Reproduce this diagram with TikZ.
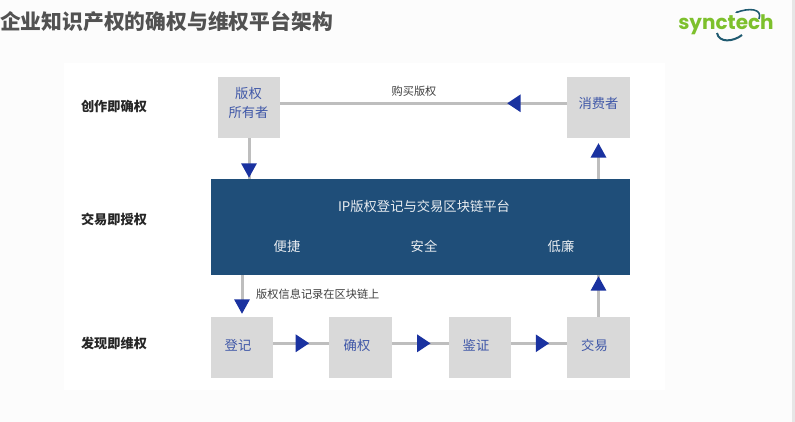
\documentclass[tikz,border=0pt]{standalone}
\usepackage{fontspec}
\setmainfont{Noto Sans CJK SC}
\newfontfamily\logofont{Poppins}
\usetikzlibrary{arrows.meta,decorations.markings}
\definecolor{pagebg}{HTML}{FCFCFC}
\definecolor{edgegray}{HTML}{E6E6E6}
\definecolor{boxgray}{HTML}{D9D9D9}
\definecolor{navy}{HTML}{1F4E79}
\definecolor{tipblue}{HTML}{1A32A0}
\definecolor{linegray}{HTML}{BEBEBE}
\definecolor{boxtext}{HTML}{4058A8}
\definecolor{logogreen}{HTML}{7DC02C}
\definecolor{logoteal}{HTML}{1F5A70}
\tikzset{
  x=1pt,y=-1pt,
  graybox/.style={fill=boxgray,minimum width=62.5pt,minimum height=61pt,inner sep=0pt},
  boxlabel/.style={text=boxtext,inner sep=0pt,font=\fontsize{13.3pt}{19pt}\selectfont,align=center},
  rowlabel/.style={font=\bfseries\fontsize{13.2pt}{16pt}\selectfont,text=black!85},
  smalllabel/.style={font=\fontsize{11.2pt}{14pt}\selectfont,text=black!75},
  platlabel/.style={font=\fontsize{13.3pt}{16pt}\selectfont,text=white!90!navy},
  conn/.style={draw=linegray,line width=3pt},
  tiph/.style={postaction={decorate,decoration={markings,mark=at position #1 with {\arrow[tipblue]{Triangle[length=13.5pt,width=17pt]}}}}},
  tipv/.style={postaction={decorate,decoration={markings,mark=at position #1 with {\arrow[tipblue]{Triangle[length=14.5pt,width=15pt]}}}}}
}
\begin{document}
\begin{tikzpicture}
\useasboundingbox (0,0) rectangle (795,422);
\fill[pagebg] (0,0) rectangle (795,422);
\fill[edgegray] (792,0) rectangle (795,422);
\fill[white] (64,63) rectangle (665,390);
\node[font=\bfseries\fontsize{20.8pt}{24pt}\selectfont,text=black!68,anchor=west,inner sep=0pt] (title) at (0,22) {企业知识产权的确权与维权平台架构};
\node[font=\logofont\bfseries\fontsize{20pt}{24pt}\selectfont,text=logogreen,inner sep=0pt] (logo) at (726,25) {synctech};
\draw[logoteal,line width=1.6pt,{Stealth[length=3pt]}-] (735,13) .. controls (748,8) and (763,8) .. (759,19);
\draw[logoteal,line width=2pt] (717,33) .. controls (719,43) and (733,42) .. (742,35);
\node[rowlabel] (r1) at (114,106) {创作即确权};
\node[rowlabel] (r2) at (114,219) {交易即授权};
\node[rowlabel] (r3) at (114,343) {发现即维权};
\node[graybox] (owner) at (249,107.5) {};
\node[graybox] (consumer) at (598.5,107.5) {};
\node[fill=navy,minimum width=419pt,minimum height=96pt,inner sep=0pt] (platform) at (420.5,227) {};
\node[platlabel] (ptitle) at (424,206) {IP版权登记与交易区块链平台};
\node[platlabel] (p1) at (287,246) {便捷};
\node[platlabel] (p2) at (424,246) {安全};
\node[platlabel] (p3) at (561,246) {低廉};
\node[graybox] (s1) at (242,347.5) {};
\node[graybox] (s2) at (360.5,347.5) {};
\node[graybox] (s3) at (480,347.5) {};
\node[graybox] (s4) at (598.5,347.5) {};
\node[boxlabel] (t0) at (248.5,102.5) {版权\\所有者};
\node[boxlabel] (t1) at (598.5,103) {消费者};
\node[boxlabel] (t2) at (238,345.5) {登记};
\node[boxlabel] (t3) at (357,345.5) {确权};
\node[boxlabel] (t4) at (476,345.5) {鉴证};
\node[boxlabel] (t5) at (594.5,345.5) {交易};
\node[smalllabel] (buy) at (414,91) {购买版权};
\node[smalllabel,anchor=west,inner sep=0pt] (rec) at (256,294) {版权信息记录在区块链上};
\draw[conn,tiph=0.209] (consumer.west |- 0,103.3) -- (owner.east |- 0,103.3);
\draw[conn,tipv=0.976] (owner.south) -- (owner.south |- platform.north);
\draw[conn,shorten >=10pt,tipv=0.88] (consumer.south |- platform.north) -- (consumer.south);
\draw[conn,shorten >=8pt,tipv=0.93] (s1.north |- platform.south) -- (s1.north);
\draw[conn,tipv=0.976] (s4.north) -- (s4.north |- platform.south);
\draw[conn,tiph=0.643] (s1.east |- 0,343.3) -- (s2.west |- 0,343.3);
\draw[conn,tiph=0.684] (s2.east |- 0,343.3) -- (s3.west |- 0,343.3);
\draw[conn,tiph=0.68] (s3.east |- 0,343.3) -- (s4.west |- 0,343.3);
\end{tikzpicture}
\end{document}
